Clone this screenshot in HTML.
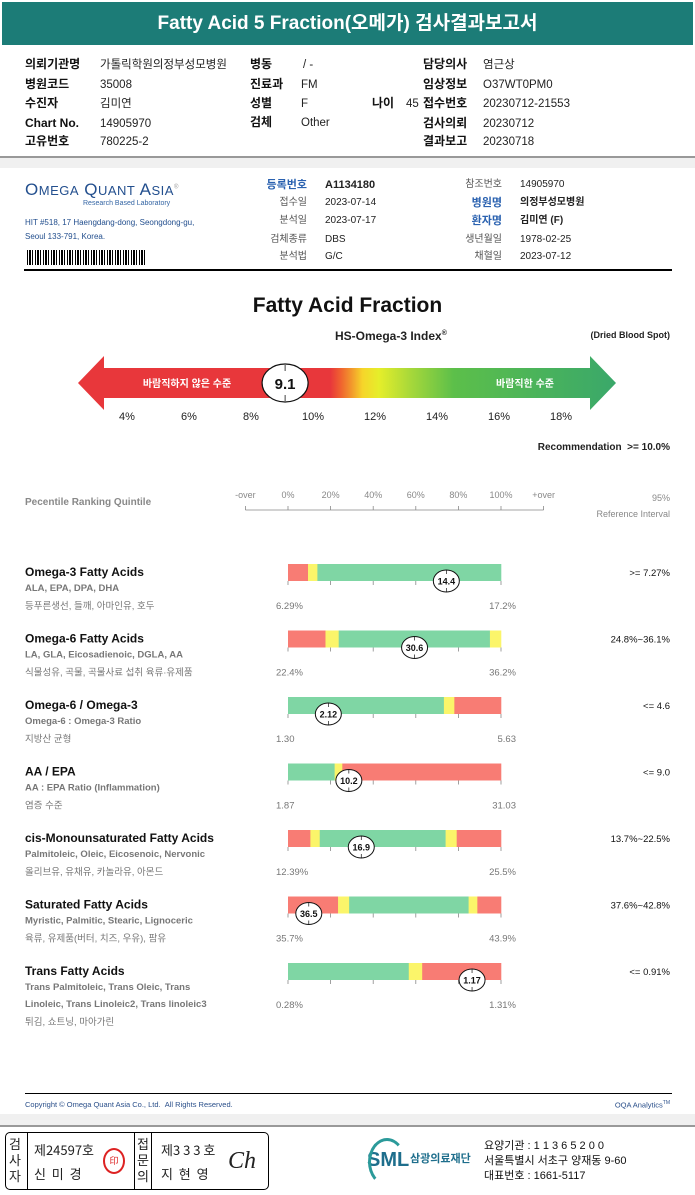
<!DOCTYPE html>
<html><head><meta charset="utf-8">
<style>
*{margin:0;padding:0;box-sizing:border-box}
body{width:695px;height:1195px;background:#fff;position:relative;overflow:hidden;font-family:"Liberation Sans","Noto Sans CJK KR",sans-serif;color:#222}
.a{position:absolute;white-space:nowrap;line-height:1}
.hl{font-weight:bold;font-size:12px;color:#111}
.hv{font-size:11.5px;color:#222;margin-top:2px}
.ml{font-size:10px;color:#555;text-align:right;width:80px}
.mv{font-size:10px;color:#222}
</style></head><body>
<div class="a" style="left:2px;top:2px;width:691px;height:43px;background:#1c7c77;"></div>
<div class="a" style="left:0;top:14px;width:695px;text-align:center;color:#fff;font-weight:bold;font-size:19px;">Fatty Acid 5 Fraction(오메가) 검사결과보고서</div>

<div>
<div class="a hl" style="left:25px;top:58px">의뢰기관명</div><div class="a hv" style="left:100px;top:58px">가톨릭학원의정부성모병원</div>
<div class="a hl" style="left:25px;top:78px">병원코드</div><div class="a hv" style="left:100px;top:78px">35008</div>
<div class="a hl" style="left:25px;top:97px">수진자</div><div class="a hv" style="left:100px;top:97px">김미연</div>
<div class="a hl" style="left:25px;top:117px">Chart No.</div><div class="a hv" style="left:100px;top:117px">14905970</div>
<div class="a hl" style="left:25px;top:135px">고유번호</div><div class="a hv" style="left:100px;top:135px">780225-2</div>
<div class="a hl" style="left:250px;top:58px">병동</div><div class="a hv" style="left:303px;top:58px">/ -</div>
<div class="a hl" style="left:250px;top:78px">진료과</div><div class="a hv" style="left:301px;top:78px">FM</div>
<div class="a hl" style="left:250px;top:97px">성별</div><div class="a hv" style="left:301px;top:97px">F</div>
<div class="a hl" style="left:372px;top:97px">나이</div><div class="a hv" style="left:406px;top:97px">45</div>
<div class="a hl" style="left:250px;top:116px">검체</div><div class="a hv" style="left:301px;top:116px">Other</div>
<div class="a hl" style="left:423px;top:58px">담당의사</div><div class="a hv" style="left:483px;top:58px">염근상</div>
<div class="a hl" style="left:423px;top:78px">임상정보</div><div class="a hv" style="left:483px;top:78px">O37WT0PM0</div>
<div class="a hl" style="left:423px;top:97px">접수번호</div><div class="a hv" style="left:483px;top:97px">20230712-21553</div>
<div class="a hl" style="left:423px;top:117px">검사의뢰</div><div class="a hv" style="left:483px;top:117px">20230712</div>
<div class="a hl" style="left:423px;top:135px">결과보고</div><div class="a hv" style="left:483px;top:135px">20230718</div>
</div>
<div class="a" style="left:0;top:156px;width:695px;height:2px;background:#999"></div>
<div class="a" style="left:0;top:158px;width:695px;height:10px;background:#f0f0f0"></div>

<div>
<div class="a" style="left:25px;top:181px;font-size:17px;color:#234f8e;letter-spacing:0.5px">O<span style="font-size:13px">MEGA</span> Q<span style="font-size:13px">UANT</span> A<span style="font-size:13px">SIA</span><sup style="font-size:6px;color:#999">®</sup></div>
<div class="a" style="left:83px;top:200px;font-size:7px;color:#3465a4">Research Based Laboratory</div>
<div class="a" style="left:25px;top:219px;font-size:8px;color:#234f8e">HIT #518, 17 Haengdang-dong, Seongdong-gu,</div>
<div class="a" style="left:25px;top:233px;font-size:8px;color:#234f8e">Seoul 133-791, Korea.</div>
<div class="a" style="left:27px;top:250px;width:118px;height:15px;background:repeating-linear-gradient(90deg,#000 0 1px,#fff 1px 2px,#000 2px 4px,#fff 4px 5px,#000 5px 6px,#fff 6px 8px)"></div>
<div class="a ml" style="left:227px;top:180px;color:#2b62b0;font-weight:bold;font-size:11px">등록번호</div><div class="a mv" style="left:325px;top:180px;font-weight:bold;font-size:11px">A1134180</div>
<div class="a ml" style="left:227px;top:198px">접수일</div><div class="a mv" style="left:325px;top:198px">2023-07-14</div>
<div class="a ml" style="left:227px;top:216px">분석일</div><div class="a mv" style="left:325px;top:216px">2023-07-17</div>
<div class="a ml" style="left:227px;top:235px">검체종류</div><div class="a mv" style="left:325px;top:235px">DBS</div>
<div class="a ml" style="left:227px;top:252px">분석법</div><div class="a mv" style="left:325px;top:252px">G/C</div>
<div class="a ml" style="left:422px;top:180px">참조번호</div><div class="a mv" style="left:520px;top:180px">14905970</div>
<div class="a ml" style="left:422px;top:198px;color:#2b62b0;font-weight:bold;font-size:11px">병원명</div><div class="a mv" style="left:520px;top:198px;font-weight:bold">의정부성모병원</div>
<div class="a ml" style="left:422px;top:216px;color:#2b62b0;font-weight:bold;font-size:11px">환자명</div><div class="a mv" style="left:520px;top:216px;font-weight:bold">김미연 (F)</div>
<div class="a ml" style="left:422px;top:235px">생년월일</div><div class="a mv" style="left:520px;top:235px">1978-02-25</div>
<div class="a ml" style="left:422px;top:252px">채혈일</div><div class="a mv" style="left:520px;top:252px">2023-07-12</div>
</div>
<div class="a" style="left:24px;top:269px;width:648px;height:2px;background:#000"></div>

<div class="a" style="left:0;top:295px;width:695px;text-align:center;font-size:21px;font-weight:bold;color:#111">Fatty Acid Fraction</div>
<div class="a" style="left:335px;top:330px;font-size:12px;font-weight:bold">HS-Omega-3 Index<sup style="font-size:7px">®</sup></div>
<div class="a" style="left:560px;top:331px;width:110px;text-align:right;font-size:9px;font-weight:bold">(Dried Blood Spot)</div>
<div class="a" style="left:470px;top:443px;width:200px;text-align:right;font-size:10px;font-weight:bold">Recommendation &nbsp;&gt;= 10.0%</div>

<div class="a" style="left:25px;top:498px;font-size:10px;font-weight:bold;color:#888">Pecentile Ranking Quintile</div>
<div class="a" style="left:520px;top:490px;width:150px;text-align:right;font-size:9px;color:#888;line-height:16px">95%<br>Reference Interval</div>

<svg class="a" style="left:0;top:0" width="695" height="1195" id="chart"></svg>

<div class="a" style="left:25px;top:1093px;width:647px;height:1px;background:#000"></div>
<div class="a" style="left:25px;top:1101px;font-size:7.5px;color:#2a4f8a">Copyright © Omega Quant Asia Co., Ltd. &nbsp;All Rights Reserved.</div>
<div class="a" style="left:560px;top:1101px;width:110px;text-align:right;font-size:7.5px;color:#2a4f8a">OQA Analytics<sup style="font-size:5px">TM</sup></div>
<div class="a" style="left:0;top:1114px;width:695px;height:13px;background:#f0f0f0;border-bottom:2px solid #999"></div>

<div class="a" style="left:5px;top:1132px;width:264px;height:58px;border:1px solid #000;border-radius:5px;font-family:'WenQuanYi Zen Hei','Noto Sans CJK KR',sans-serif;font-size:13px">
<div class="a" style="left:3px;top:3px;width:12px;line-height:16px;text-align:center">검<br>사<br>자</div>
<div class="a" style="left:21px;top:0;width:1px;height:56px;background:#000"></div>
<div class="a" style="left:28px;top:10px">제24597호</div>
<div class="a" style="left:28px;top:34px">신 &nbsp;미 &nbsp;경</div>
<div class="a" style="left:97px;top:15px;width:22px;height:26px;border-radius:50%;border:2px solid #d22;color:#d22;font-size:9px;text-align:center;line-height:22px">印</div>
<div class="a" style="left:128px;top:0;width:1px;height:56px;background:#000"></div>
<div class="a" style="left:131px;top:3px;width:12px;line-height:16px;text-align:center">접<br>문<br>의</div>
<div class="a" style="left:145px;top:0;width:1px;height:56px;background:#000"></div>
<div class="a" style="left:155px;top:10px">제3 3 3 호</div>
<div class="a" style="left:155px;top:34px">지 &nbsp;현 &nbsp;영</div>
<div class="a" style="left:222px;top:16px;font-family:'Liberation Serif',serif;font-style:italic;font-size:24px">Ch</div>
</div>
<div class="a" style="left:367px;top:1150px;font-size:20px;font-weight:bold;color:#1e6e8c">SML</div>
<div class="a" style="left:368px;top:1138px;width:38px;height:48px;border:3px solid #2b9a9a;border-radius:50%;border-right-color:transparent;border-bottom-color:transparent"></div>
<div class="a" style="left:410px;top:1154px;font-size:11px;font-weight:bold;color:#1e6e8c">삼광의료재단</div>
<div class="a" style="left:484px;top:1139px;font-size:11px;line-height:15px;color:#111">요양기관 : 1 1 3 6 5 2 0 0<br>서울특별시 서초구 양재동 9-60<br>대표번호 : 1661-5117</div>

<script>
const gaugeTicks=[4,6,8,10,12,14,16,18];
const gaugeValue=9.1;
const quintileLabels=["-over","0%","20%","40%","60%","80%","100%","+over"];
const rowTitles=["Omega-3 Fatty Acids","Omega-6 Fatty Acids","Omega-6 / Omega-3","AA / EPA","cis-Monounsaturated Fatty Acids","Saturated Fatty Acids","Trans Fatty Acids"];
const rowSubs=[["ALA, EPA, DPA, DHA"],["LA, GLA, Eicosadienoic, DGLA, AA"],["Omega-6 : Omega-3 Ratio"],["AA : EPA Ratio (Inflammation)"],["Palmitoleic, Oleic, Eicosenoic, Nervonic"],["Myristic, Palmitic, Stearic, Lignoceric"],["Trans Palmitoleic, Trans Oleic, Trans","Linoleic, Trans Linoleic2, Trans linoleic3"]];
const rowKorean=["등푸른생선, 들깨, 아마인유, 호두","식물성유, 곡물, 곡물사료 섭취 육류·유제품","지방산 균형","염증 수준","올리브유, 유채유, 카놀라유, 아몬드","육류, 유제품(버터, 치즈, 우유), 팜유","튀김, 쇼트닝, 마아가린"];
const rowRef=[">= 7.27%","24.8%~36.1%","<= 4.6","<= 9.0","13.7%~22.5%","37.6%~42.8%","<= 0.91%"];
const rowMin=[6.29,22.4,1.30,1.87,12.39,35.7,0.28];
const rowMax=[17.2,36.2,5.63,31.03,25.5,43.9,1.31];
const rowMinLabel=["6.29%","22.4%","1.30","1.87","12.39%","35.7%","0.28%"];
const rowMaxLabel=["17.2%","36.2%","5.63","31.03","25.5%","43.9%","1.31%"];
const rowValue=[14.4,30.6,2.12,10.2,16.9,36.5,1.17];
const rowValueLabel=["14.4","30.6","2.12","10.2","16.9","36.5","1.17"];
const rowZones=[
 [["r",9.4],["y",13.8],["g",100]],
 [["r",17.6],["y",23.8],["g",94.8],["y",100]],
 [["g",73.2],["y",78.1],["r",100]],
 [["g",21.9],["y",25.5],["r",100]],
 [["r",10.5],["y",14.9],["g",74.0],["y",79.2],["r",100]],
 [["r",23.5],["y",28.7],["g",84.8],["y",88.9],["r",100]],
 [["g",56.7],["y",63.0],["r",100]]
];
const colors={r:"#f87c74",y:"#fbf56a",g:"#7fd6a4"};
const NS="http://www.w3.org/2000/svg";
const svg=document.getElementById('chart');
function mk(tag,attrs,parent){const e=document.createElementNS(NS,tag);for(const k in attrs)e.setAttribute(k,attrs[k]);(parent||svg).appendChild(e);return e;}
function txt(x,y,s,attrs,parent){const e=mk('text',Object.assign({x:x,y:y},attrs),parent);e.textContent=s;return e;}
const gx=v=>127+(v-4)*31;
const defs=mk('defs',{});
const lg=mk('linearGradient',{id:'gg',x1:'78',x2:'615',y1:'0',y2:'0',gradientUnits:'userSpaceOnUse'},defs);
[[0,'#e8373b'],[0.47,'#e8373b'],[0.49,'#f0642f'],[0.51,'#f29a2c'],[0.53,'#f6d52a'],[0.56,'#e6ee2a'],[0.62,'#a6d83a'],[0.7,'#5cbf4a'],[1,'#3aa86a']].forEach(s=>mk('stop',{offset:s[0],'stop-color':s[1]},lg));
const arrow=mk('path',{d:'M78,383 L104,356 L104,368 L590,368 L590,356 L616,383 L590,410 L590,398 L104,398 L104,410 Z',fill:'url(#gg)'});


const tl=txt(187,387,"바람직하지 않은 수준",{fill:'#fff','font-size':'10','font-weight':'bold','text-anchor':'middle'});


const th=txt(525,387,"바람직한 수준",{fill:'#fff','font-size':'10','font-weight':'bold','text-anchor':'middle'});


gaugeTicks.forEach(v=>{const t=txt(gx(v),420,v+"%",{'font-size':'11','text-anchor':'middle',fill:'#222'});

});
const gm=mk('g',{});


mk('ellipse',{cx:gx(gaugeValue),cy:383,rx:23,ry:19,fill:'#fff',stroke:'#111','stroke-width':1.2},gm);
mk('line',{x1:gx(gaugeValue),x2:gx(gaugeValue),y1:365,y2:371,stroke:'#111','stroke-width':0.8},gm);
mk('line',{x1:gx(gaugeValue),x2:gx(gaugeValue),y1:395,y2:401,stroke:'#111','stroke-width':0.8},gm);
txt(gx(gaugeValue),389,gaugeValue.toFixed(1),{'font-size':'15','font-weight':'bold','text-anchor':'middle',fill:'#111'},gm);
const bx0=288,bw=213;
const qx=i=>bx0+(i-1)*bw/5;
quintileLabels.forEach((s,i)=>{const t=txt(qx(i),498,s,{'font-size':'9','text-anchor':'middle',fill:'#888'});


mk('line',{x1:qx(i),x2:qx(i),y1:506,y2:510,stroke:'#888','stroke-width':0.8});});
const ax=mk('line',{x1:qx(0),x2:qx(7),y1:510,y2:510,stroke:'#888','stroke-width':0.8});


rowTitles.forEach((title,i)=>{
 const y=576+i*66.5;
 const g=mk('g',{});
 
 
 txt(25,y,title,{'font-size':'12','font-weight':'bold',fill:'#111'},g);
 rowSubs[i].forEach((s,j)=>txt(25,y+15+j*17,s,{'font-size':'9.5','font-weight':'bold',fill:'#777'},g));
 txt(25,y+15+rowSubs[i].length*17+1,rowKorean[i],{'font-size':'9.5',fill:'#777'},g);
 txt(670,y,rowRef[i],{'font-size':'9.5','text-anchor':'end',fill:'#111'},g);
 const top=y-12,h=17;
 let prev=0;
 rowZones[i].forEach(z=>{const r=mk('rect',{x:bx0+prev/100*bw,y:top,width:(z[1]-prev)/100*bw+0.3,height:h,fill:colors[z[0]]},g);
 
 
 prev=z[1];});
 for(let k=0;k<=5;k++)mk('line',{x1:bx0+k*bw/5,x2:bx0+k*bw/5,y1:top+h,y2:top+h+4,stroke:'#888','stroke-width':0.8},g);
 txt(276,y+33,rowMinLabel[i],{'font-size':'9.5',fill:'#777'},g);
 txt(516,y+33,rowMaxLabel[i],{'font-size':'9.5','text-anchor':'end',fill:'#777'},g);
 const mx=bx0+(rowValue[i]-rowMin[i])/(rowMax[i]-rowMin[i])*bw, my=top+h;
 const m=mk('g',{},g);
 
 
 mk('ellipse',{cx:mx,cy:my,rx:13,ry:11,fill:'#fff',stroke:'#111','stroke-width':1},m);
 mk('line',{x1:mx,x2:mx,y1:my-11,y2:my-7,stroke:'#111','stroke-width':0.7},m);
 mk('line',{x1:mx,x2:mx,y1:my+7,y2:my+11,stroke:'#111','stroke-width':0.7},m);
 txt(mx,my+3.5,rowValueLabel[i],{'font-size':'9','font-weight':'bold','text-anchor':'middle',fill:'#111'},m);
});
</script>
</body></html>
